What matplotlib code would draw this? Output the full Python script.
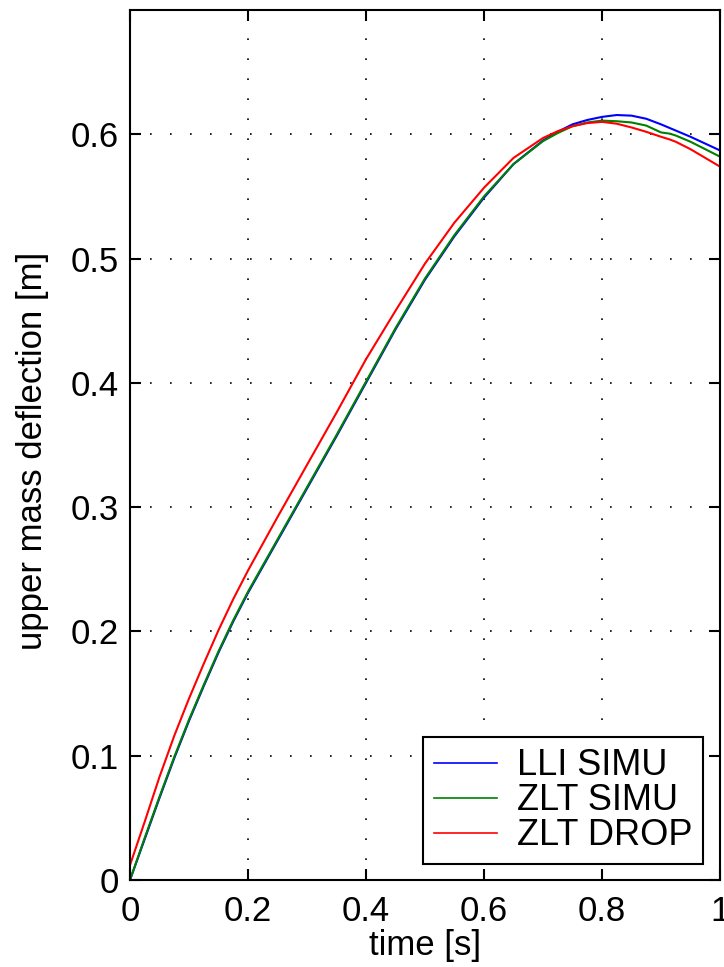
import matplotlib
matplotlib.use("Agg")
import matplotlib.pyplot as plt

# time samples [s]
t = [0, 0.025, 0.05, 0.075, 0.1, 0.125, 0.15, 0.175, 0.2, 0.25, 0.3, 0.35, 0.4, 0.45,
     0.5, 0.55, 0.6, 0.65, 0.7, 0.725, 0.75, 0.775, 0.8, 0.825, 0.85, 0.875, 0.9,
     0.915, 0.925, 0.95, 0.975, 1.0]

# upper mass deflection [m]
lli_simu = [0, 0.033, 0.066, 0.098, 0.128, 0.156, 0.183, 0.208, 0.231, 0.273, 0.315, 0.357,
            0.400, 0.443, 0.483, 0.518, 0.549, 0.576, 0.595, 0.602, 0.608, 0.6115, 0.614,
            0.6155, 0.615, 0.6125, 0.608, 0.605, 0.603, 0.598, 0.5925, 0.587]
zlt_simu = [0, 0.034, 0.067, 0.099, 0.129, 0.157, 0.184, 0.209, 0.232, 0.274, 0.316, 0.358,
            0.401, 0.444, 0.484, 0.519, 0.550, 0.576, 0.5945, 0.601, 0.6065, 0.6095, 0.611,
            0.6105, 0.6095, 0.607, 0.6015, 0.6005, 0.599, 0.594, 0.588, 0.582]
zlt_drop = [0.012, 0.047, 0.083, 0.116, 0.146, 0.174, 0.201, 0.226, 0.249, 0.292, 0.334, 0.376,
            0.419, 0.458, 0.496, 0.529, 0.557, 0.581, 0.597, 0.6025, 0.6065, 0.609, 0.610,
            0.6085, 0.6055, 0.602, 0.598, 0.5958, 0.594, 0.588, 0.581, 0.574]

xticks = [0, 0.2, 0.4, 0.6, 0.8, 1]
xticklabels = ["0", "0.2", "0.4", "0.6", "0.8", "1"]
yticks = [0, 0.1, 0.2, 0.3, 0.4, 0.5, 0.6]
yticklabels = ["0", "0.1", "0.2", "0.3", "0.4", "0.5", "0.6"]

plt.rcParams['font.family'] = ['Liberation Sans', 'DejaVu Sans']

fig = plt.figure(figsize=(7.24, 9.67), dpi=100)
ax = fig.add_axes([130 / 724, 87 / 967, 590 / 724, 870 / 967])

ax.plot(t, lli_simu, color=(0, 0, 1), lw=1.5, label="LLI SIMU")
ax.plot(t, zlt_simu, color=(0, 0.5, 0), lw=1.5, label="ZLT SIMU")
ax.plot(t, zlt_drop, color=(1, 0, 0), lw=1.5, label="ZLT DROP")

ax.set_xlim(0, 1)
ax.set_ylim(0, 0.7)
ax.set_xticks(xticks)
ax.set_xticklabels(xticklabels)
ax.set_yticks(yticks)
ax.set_yticklabels(yticklabels)

# matlab style box + inward ticks
ax.tick_params(direction='in', length=8, width=1.5, top=True, right=True,
               labelsize=25, colors='black')
ax.tick_params(axis='x', pad=11)
ax.tick_params(axis='y', pad=8)
for s in ax.spines.values():
    s.set_linewidth(1.5)
    s.set_color('black')

ax.grid(True, color='black', linestyle=(0, (1, 11)), linewidth=1.2)

ax.set_xlabel("time [s]", fontsize=25)
ax.set_ylabel("upper mass deflection [m]", fontsize=25)
ax.xaxis.set_label_coords(0.5, -0.056)
ax.yaxis.set_label_coords(-0.138, 0.493)

leg = ax.legend(loc='lower right', bbox_to_anchor=(0.971, 0.0184), borderaxespad=0,
                fontsize=26, fancybox=False, framealpha=1, edgecolor='black',
                handlelength=1.75, handletextpad=0.55, labelspacing=0.0, borderpad=0.3)
leg.get_frame().set_linewidth(1.5)
for ln in leg.get_lines():
    ln.set_linewidth(1.2)

fig.savefig("out.png", dpi=100)
